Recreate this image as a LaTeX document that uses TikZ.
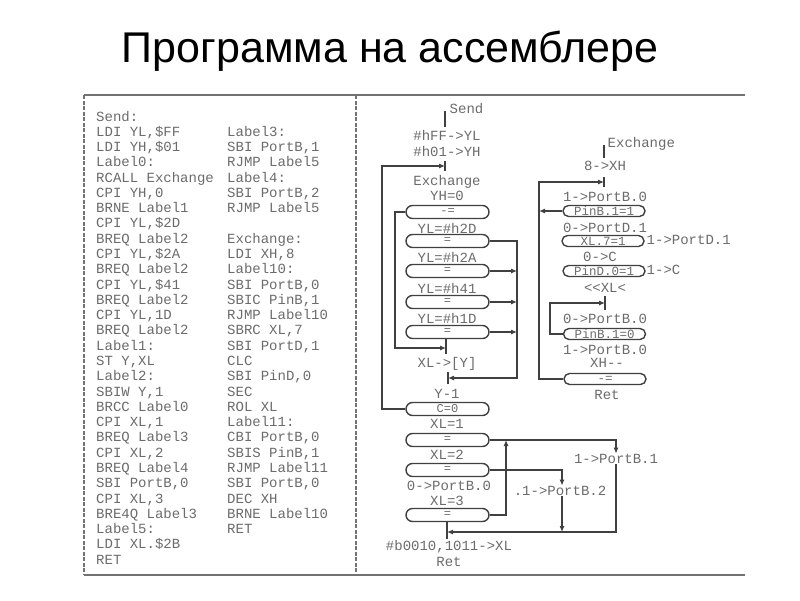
\documentclass[tikz,border=0pt]{standalone}
\usepackage{fontspec}
\setmonofont{Liberation Mono}
\newfontfamily\titlefont{Liberation Sans}
\usetikzlibrary{arrows.meta}
\definecolor{ink}{gray}{0.25}
\definecolor{txt}{gray}{0.42}
\definecolor{rule}{gray}{0.45}
\tikzset{
    code/.style={font=\ttfamily\fontsize{14}{14}\selectfont, text=txt, inner sep=0pt, anchor=base west},
    lbl/.style={font=\ttfamily\fontsize{14}{14}\selectfont, text=txt, inner sep=0.5pt},
    cond/.style={draw=ink, line width=1.4pt, rounded corners=6.5pt, minimum width=83pt,
        minimum height=13pt, inner sep=0pt, font=\ttfamily\fontsize{12}{12}\selectfont, text=txt},
    condsm/.style={cond, rounded corners=5.5pt, minimum width=82pt, minimum height=11pt,
        font=\ttfamily\fontsize{12.5}{12.5}\selectfont},
    flow/.style={draw=ink, line width=1.1pt, -{Latex[length=6pt,width=5pt]}},
    wire/.style={draw=ink, line width=1.1pt},
    joinbar/.style={draw=ink, line width=1.3pt},
}
\begin{document}
\begin{tikzpicture}[x=1pt, y=-1pt]
        \useasboundingbox (0,0) rectangle (800,600);
        \node[font=\titlefont\fontsize{43}{43}\selectfont, anchor=base] (title) at (390,62) {Программа на ассемблере};
        % frame
        \draw[rule, line width=1.6pt] (84,95)--(745,95) (84,575)--(745,575);
        \draw[rule, line width=1.4pt, dash pattern=on 4pt off 1.5pt] (84,95)--(84,575) (356,95)--(356,575);
        % listing
        \foreach \t [count=\i from 0] in {Send:, {LDI YL,\$FF}, {LDI YH,\$01}, Label0:, {RCALL Exchange},
            {CPI YH,0}, {BRNE Label1}, {CPI YL,\$2D}, {BREQ Label2}, {CPI YL,\$2A}, {BREQ Label2},
            {CPI YL,\$41}, {BREQ Label2}, {CPI YL,1D}, {BREQ Label2}, Label1:, {ST Y,XL}, Label2:,
            {SBIW Y,1}, {BRCC Label0}, {CPI XL,1}, {BREQ Label3}, {CPI XL,2}, {BREQ Label4},
            {SBI PortB,0}, {CPI XL,3}, {BRE4Q Label3}, Label5:, {LDI XL.\$2B}, RET}
            \node[code] (la\i) at (96,{121+15.28*\i}) {\t};
        \foreach \t [count=\i from 1] in {Label3:, {SBI PortB,1}, {RJMP Label5}, Label4:, {SBI PortB,2},
            {RJMP Label5}, {}, Exchange:, {LDI XH,8}, Label10:, {SBI PortB,0}, {SBIC PinB,1},
            {RJMP Label10}, {SBRC XL,7}, {SBI PortD,1}, CLC, {SBI PinD,0}, SEC, {ROL XL}, Label11:,
            {CBI PortB,0}, {SBIS PinB,1}, {RJMP Label11}, {SBI PortB,0}, {DEC XH}, {BRNE Label10}, RET}
            \node[code] (lb\i) at (227,{121+15.28*\i}) {\t};
        % Send
        \node[lbl, anchor=west] (send) at (449,109) {Send};
        \draw[joinbar] (445,111)--(445,127);
        \node[lbl] (ldyl) at (447,135) {\#hFF->YL};
        \node[lbl] (ldyh) at (447,151) {\#h01->YH};
        \coordinate (tL0) at (445,166);
        \node[lbl] (xch) at (447,182) {Exchange};
        \node[lbl] (yh0) at (447,196) {YH=0};
        \node[cond] (b1) at (447.5,212) {-=};
        \node[lbl] (yl2d) at (447,228) {YL=\#h2D};
        \node[cond] (b2) at (447.5,241) {=};
        \node[lbl] (yl2a) at (447,257) {YL=\#h2A};
        \node[cond] (b3) at (447.5,271) {=};
        \node[lbl] (yl41) at (447,288) {YL=\#h41};
        \node[cond] (b4) at (447.5,302) {=};
        \node[lbl] (yl1d) at (447,318) {YL=\#h1D};
        \node[cond] (b5) at (447.5,332) {=};
        \coordinate (tL1) at (446,348);
        \node[lbl] (st) at (447,364) {XL->[Y]};
        \coordinate (tL2) at (448,378);
        \node[lbl] (dec) at (447,394) {Y-1};
        \node[cond] (b6) at (447.5,409) {C=0};
        \node[lbl] (xl1) at (447,424) {XL=1};
        \node[cond] (b7) at (447.5,440) {=};
        \node[lbl] (xl2) at (447,455) {XL=2};
        \node[cond] (b8) at (447.5,470) {=};
        \node[lbl] (pb0) at (449,486) {0->PortB.0};
        \node[lbl] (xl3) at (447,501) {XL=3};
        \node[cond] (b9) at (447.5,515) {=};
        \coordinate (tL5) at (447,532);
        \node[lbl] (ldxl) at (449,547) {\#b0010,1011->XL};
        \node[lbl] (ret1) at (449,562) {Ret};
        \node[lbl] (pb1) at (616,459) {1->PortB.1};
        \node[lbl] (pb2) at (560,491) {.1->PortB.2};
        \foreach \c/\h in {tL0/5, tL1/6, tL2/6, tL5/7}
            \draw[joinbar] ([yshift=\h pt]\c)--([yshift=-\h pt]\c);
        \draw[wire] (b5.south -| tL1)--(tL1);
        \draw[wire] (b9.south -| tL5)--(tL5);
        \coordinate (j0) at (382,166);
        \coordinate (j1) at (395,348);
        \coordinate (j2) at (517,378);
        \coordinate (j9) at (506,440);
        \draw[flow] (b6.west) -| (j0) -- (tL0);
        \draw[flow] (b1.west) -| (j1) -- (tL1);
        \draw[flow] (b2.east) -| (j2) -- (tL2);
        \draw[flow] (b3.east) -- (b3.east -| j2);
        \draw[flow] (b4.east) -- (b4.east -| j2);
        \draw[flow] (b5.east) -- (b5.east -| j2);
        \draw[flow] (b7.east) -| (pb1.north);
        \draw[flow] (pb1.south) |- (tL5);
        \draw[flow] (b8.east) -| ([xshift=2pt]pb2.north);
        \draw[flow] ([xshift=2pt]pb2.south) -- ([xshift=2pt]pb2.south |- tL5);
        \draw[flow] (b9.east) -| (j9);
        % Exchange
        \node[lbl, anchor=west] (exch) at (607,144) {Exchange};
        \draw[joinbar] (604,145)--(604,158);
        \node[lbl] (xh8) at (605,166) {8->XH};
        \coordinate (tL10) at (604,182);
        \node[lbl] (sb0) at (605,197) {1->PortB.0};
        \node[condsm] (ca) at (604,211) {PinB.1=1};
        \node[lbl] (cd1) at (605,228) {0->PortD.1};
        \node[condsm] (cb) at (603,241) {XL.7=1};
        \node[lbl, anchor=west] (sd1) at (646,240) {1->PortD.1};
        \node[lbl] (clc) at (600,257) {0->C};
        \node[condsm] (cc) at (604,271) {PinD.0=1};
        \node[lbl, anchor=west] (sec) at (646,270) {1->C};
        \node[lbl] (rol) at (605,288) {<{}<XL<};
        \coordinate (tL11) at (605,303);
        \node[lbl] (cb0) at (605,319) {0->PortB.0};
        \node[condsm] (cd) at (604.5,334) {PinB.1=0};
        \node[lbl] (sb0b) at (605,350) {1->PortB.0};
        \node[lbl] (dxh) at (607,363) {XH-{}-};
        \node[condsm] (ce) at (605,379) {-=};
        \node[lbl] (ret2) at (607,395) {Ret};
        \foreach \c/\h in {tL10/5, tL11/7}
            \draw[joinbar] ([yshift=\h pt]\c)--([yshift=-\h pt]\c);
        \coordinate (k0) at (539,182);
        \coordinate (k1) at (550,303);
        \draw[flow] (ce.west) -| (k0) -- (tL10);
        \draw[flow] (ca.west) -- (ca.west -| k0);
        \draw[flow] (cd.west) -| (k1) -- (tL11);
    \end{tikzpicture}
\end{document}
